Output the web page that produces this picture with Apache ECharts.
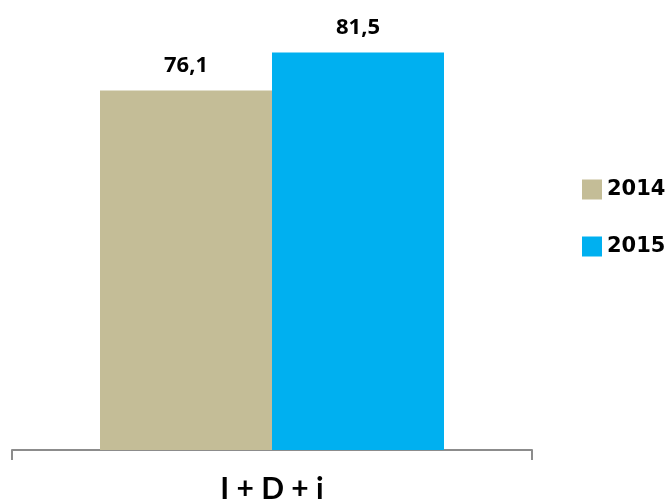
<!DOCTYPE html>
<html>
<head>
<meta charset="utf-8">
<script src="https://cdn.jsdelivr.net/npm/echarts@6/dist/echarts.min.js"></script>
<style>
html,body{margin:0;padding:0;background:#fff;}
#chart{width:669px;height:504px;}
</style>
</head>
<body>
<div id="chart"></div>
<script>
var categories = ['I + D + i'];
var seriesNames = ['2014', '2015'];
var values2014 = [76.1];
var values2015 = [81.5];
var seriesColors = ['#C4BD97', '#00B0F0'];

function fmt(p) { return String(p.value).replace('.', ','); }

var chart = echarts.init(document.getElementById('chart'), null, {renderer: 'canvas'});
var labelStyle = {
  show: true, position: 'top', distance: 14, formatter: fmt,
  color: '#000', fontFamily: 'Open Sans', fontWeight: 'bold', fontSize: 22
};
chart.setOption({
  animation: false,
  backgroundColor: '#fff',
  grid: {left: 12, right: 137, top: 28, bottom: 54, containLabel: false},
  legend: {
    orient: 'vertical', left: 577, top: 174,
    itemWidth: 20, itemHeight: 20, itemGap: 36,
    icon: 'rect',
    textStyle: {color: '#000', fontFamily: 'DejaVu Sans', fontWeight: 'bold', fontSize: 21, padding: [0, 0, 0, 0]},
    data: seriesNames
  },
  xAxis: {
    type: 'category', data: categories,
    axisLine: {show: true, lineStyle: {color: '#8c8c8c', width: 2}},
    axisTick: {show: true, length: 10, lineStyle: {color: '#8c8c8c', width: 2}},
    axisLabel: {margin: 24, color: '#000', fontFamily: 'Lato', fontWeight: 'bold', fontSize: 30}
  },
  yAxis: {type: 'value', min: 25, max: 85, show: false, splitLine: {show: false}},
  series: [
    {name: seriesNames[0], type: 'bar', data: values2014, barWidth: 172, barGap: '0%',
     itemStyle: {color: seriesColors[0]}, label: labelStyle},
    {name: seriesNames[1], type: 'bar', data: values2015, barWidth: 172, barGap: '0%',
     itemStyle: {color: seriesColors[1]}, label: labelStyle}
  ]
});
</script>
</body>
</html>
